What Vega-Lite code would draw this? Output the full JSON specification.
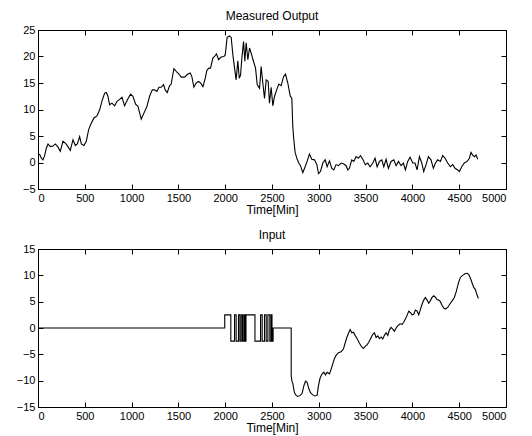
{
"$schema": "https://vega.github.io/schema/vega-lite/v6.json",
"padding": {"left": 15, "top": 9, "right": 5, "bottom": 2},
"background": "white",
"spacing": 12,
"config": {
  "view": {"stroke": "black", "strokeWidth": 1},
  "axis": {"domainColor": "black", "tickColor": "black", "labelColor": "black", "titleColor": "black", "labelFont": "Liberation Sans", "titleFont": "Liberation Sans", "labelFontSize": 11, "titleFontSize": 12, "titleFontWeight": "normal", "grid": false, "tickSize": -5, "labelPadding": 8, "titlePadding": 1, "format": "d"},
  "title": {"font": "Liberation Sans", "fontSize": 12, "fontWeight": "normal", "color": "black", "offset": 1}
},
"datasets": {
"out": [
{"t":0,"v":1.6},{"t":18,"v":1.5},{"t":36,"v":0.8},{"t":53,"v":0.5},{"t":71,"v":1.3},{"t":89,"v":2.7},{"t":107,"v":3.5},{"t":132,"v":3.0},{"t":160,"v":3.1},{"t":185,"v":3.5},{"t":214,"v":2.9},{"t":238,"v":2.1},{"t":267,"v":4.0},{"t":295,"v":3.6},{"t":320,"v":3.0},{"t":345,"v":2.3},{"t":374,"v":4.3},{"t":399,"v":3.2},{"t":420,"v":3.5},{"t":445,"v":4.9},{"t":463,"v":3.5},{"t":491,"v":3.2},{"t":516,"v":4.0},{"t":541,"v":6.2},{"t":569,"v":7.4},{"t":598,"v":8.4},{"t":630,"v":8.8},{"t":658,"v":9.9},{"t":687,"v":11.8},{"t":712,"v":13.1},{"t":730,"v":13.2},{"t":747,"v":12.5},{"t":765,"v":10.9},{"t":790,"v":11.2},{"t":819,"v":10.7},{"t":843,"v":11.5},{"t":872,"v":11.9},{"t":897,"v":12.3},{"t":925,"v":10.7},{"t":954,"v":11.8},{"t":989,"v":12.9},{"t":1014,"v":12.5},{"t":1043,"v":11.0},{"t":1068,"v":10.6},{"t":1103,"v":8.2},{"t":1139,"v":9.6},{"t":1164,"v":10.6},{"t":1192,"v":12.5},{"t":1221,"v":13.7},{"t":1246,"v":13.7},{"t":1270,"v":13.4},{"t":1292,"v":14.2},{"t":1317,"v":14.2},{"t":1342,"v":14.7},{"t":1359,"v":13.7},{"t":1381,"v":13.2},{"t":1406,"v":14.5},{"t":1423,"v":14.8},{"t":1452,"v":17.7},{"t":1477,"v":17.2},{"t":1505,"v":16.7},{"t":1530,"v":16.1},{"t":1566,"v":16.1},{"t":1601,"v":16.7},{"t":1626,"v":16.9},{"t":1644,"v":16.2},{"t":1665,"v":14.2},{"t":1690,"v":15.0},{"t":1715,"v":15.3},{"t":1737,"v":15.0},{"t":1762,"v":14.3},{"t":1787,"v":15.9},{"t":1804,"v":17.4},{"t":1826,"v":17.8},{"t":1843,"v":17.8},{"t":1868,"v":19.7},{"t":1886,"v":20.0},{"t":1907,"v":20.5},{"t":1929,"v":19.4},{"t":1957,"v":19.9},{"t":1986,"v":20.0},{"t":2000,"v":20.3},{"t":2021,"v":23.6},{"t":2046,"v":23.9},{"t":2064,"v":23.6},{"t":2082,"v":20.3},{"t":2100,"v":17.8},{"t":2117,"v":15.6},{"t":2135,"v":19.2},{"t":2150,"v":15.9},{"t":2164,"v":16.5},{"t":2178,"v":19.7},{"t":2196,"v":22.8},{"t":2210,"v":19.1},{"t":2224,"v":22.6},{"t":2242,"v":19.4},{"t":2260,"v":21.6},{"t":2278,"v":20.6},{"t":2302,"v":19.1},{"t":2324,"v":17.8},{"t":2342,"v":14.7},{"t":2367,"v":14.0},{"t":2384,"v":18.1},{"t":2402,"v":15.0},{"t":2420,"v":12.1},{"t":2438,"v":15.6},{"t":2459,"v":15.3},{"t":2473,"v":11.2},{"t":2491,"v":14.2},{"t":2509,"v":10.7},{"t":2527,"v":12.5},{"t":2552,"v":13.8},{"t":2573,"v":14.8},{"t":2598,"v":14.5},{"t":2623,"v":16.2},{"t":2644,"v":16.7},{"t":2669,"v":15.0},{"t":2694,"v":12.6},{"t":2712,"v":12.1},{"t":2722,"v":6.8},{"t":2733,"v":4.3},{"t":2747,"v":1.9},{"t":2769,"v":0.6},{"t":2786,"v":-0.1},{"t":2804,"v":-0.6},{"t":2829,"v":-1.9},{"t":2854,"v":-0.8},{"t":2875,"v":0.2},{"t":2900,"v":1.6},{"t":2925,"v":0.6},{"t":2954,"v":0.5},{"t":2979,"v":-0.4},{"t":2997,"v":-2.1},{"t":3018,"v":-1.7},{"t":3043,"v":-0.1},{"t":3068,"v":0.5},{"t":3089,"v":-0.8},{"t":3114,"v":0.3},{"t":3139,"v":-1.1},{"t":3160,"v":-1.4},{"t":3185,"v":-0.4},{"t":3210,"v":-0.6},{"t":3238,"v":-0.1},{"t":3267,"v":-0.3},{"t":3292,"v":-0.6},{"t":3310,"v":-1.4},{"t":3327,"v":-1.1},{"t":3352,"v":0.5},{"t":3374,"v":0.2},{"t":3399,"v":1.1},{"t":3423,"v":0.8},{"t":3445,"v":1.3},{"t":3470,"v":0.6},{"t":3498,"v":-0.4},{"t":3523,"v":-0.1},{"t":3548,"v":-0.8},{"t":3577,"v":-0.1},{"t":3601,"v":0.8},{"t":3623,"v":-0.8},{"t":3648,"v":0.2},{"t":3673,"v":0.5},{"t":3694,"v":-0.8},{"t":3719,"v":0.6},{"t":3744,"v":-1.1},{"t":3772,"v":0.2},{"t":3801,"v":0.5},{"t":3826,"v":-0.6},{"t":3851,"v":0.2},{"t":3879,"v":-0.6},{"t":3904,"v":-0.1},{"t":3925,"v":-1.4},{"t":3950,"v":0.2},{"t":3975,"v":1.0},{"t":4004,"v":-0.1},{"t":4028,"v":-0.1},{"t":4050,"v":-1.4},{"t":4075,"v":1.1},{"t":4100,"v":-0.1},{"t":4121,"v":-1.7},{"t":4146,"v":-0.4},{"t":4171,"v":1.1},{"t":4199,"v":0.5},{"t":4224,"v":-1.1},{"t":4246,"v":-0.1},{"t":4270,"v":0.5},{"t":4299,"v":0.2},{"t":4324,"v":1.3},{"t":4349,"v":0.8},{"t":4377,"v":-0.1},{"t":4406,"v":-0.8},{"t":4431,"v":-0.4},{"t":4456,"v":-1.1},{"t":4484,"v":-1.4},{"t":4502,"v":-1.7},{"t":4527,"v":-0.8},{"t":4555,"v":-0.1},{"t":4584,"v":0.2},{"t":4609,"v":0.8},{"t":4626,"v":1.9},{"t":4644,"v":1.4},{"t":4662,"v":1.1},{"t":4680,"v":1.4},{"t":4698,"v":0.6}
],
"inp": [
{"t":0,"v":0},{"t":1995,"v":0},{"t":1995,"v":2.5},{"t":2060,"v":2.5},{"t":2060,"v":-2.5},{"t":2100,"v":-2.5},{"t":2100,"v":2.5},{"t":2117,"v":2.5},{"t":2117,"v":-2.5},{"t":2142,"v":-2.5},{"t":2142,"v":2.5},{"t":2157,"v":2.5},{"t":2157,"v":-2.5},{"t":2171,"v":-2.5},{"t":2171,"v":2.5},{"t":2185,"v":2.5},{"t":2185,"v":-2.5},{"t":2199,"v":-2.5},{"t":2199,"v":2.5},{"t":2210,"v":2.5},{"t":2210,"v":-2.5},{"t":2222,"v":-2.5},{"t":2222,"v":2.5},{"t":2318,"v":2.5},{"t":2318,"v":-2.5},{"t":2378,"v":-2.5},{"t":2378,"v":2.5},{"t":2395,"v":2.5},{"t":2395,"v":-2.5},{"t":2420,"v":-2.5},{"t":2420,"v":2.5},{"t":2438,"v":2.5},{"t":2438,"v":-2.5},{"t":2456,"v":-2.5},{"t":2456,"v":2.5},{"t":2477,"v":2.5},{"t":2477,"v":-2.5},{"t":2491,"v":-2.5},{"t":2491,"v":2.5},{"t":2500,"v":2.5},{"t":2500,"v":-2.5},{"t":2512,"v":-2.5},{"t":2512,"v":0},{"t":2705,"v":0},{"t":2705,"v":-9.0},
{"t":2712,"v":-10.0},{"t":2722,"v":-10.5},{"t":2740,"v":-12.3},{"t":2758,"v":-12.8},{"t":2776,"v":-13.0},{"t":2801,"v":-12.8},{"t":2822,"v":-12.4},{"t":2840,"v":-11.0},{"t":2858,"v":-10.1},{"t":2875,"v":-10.3},{"t":2893,"v":-11.5},{"t":2911,"v":-12.3},{"t":2936,"v":-12.7},{"t":2961,"v":-12.9},{"t":2982,"v":-12.8},{"t":2996,"v":-11.0},{"t":3014,"v":-9.5},{"t":3032,"v":-8.8},{"t":3053,"v":-8.4},{"t":3071,"v":-8.9},{"t":3089,"v":-8.4},{"t":3114,"v":-8.7},{"t":3132,"v":-7.8},{"t":3149,"v":-6.8},{"t":3167,"v":-5.8},{"t":3185,"v":-5.2},{"t":3210,"v":-4.7},{"t":3238,"v":-4.5},{"t":3263,"v":-4.0},{"t":3281,"v":-2.9},{"t":3299,"v":-1.8},{"t":3317,"v":-1.0},{"t":3335,"v":-0.3},{"t":3352,"v":-0.9},{"t":3370,"v":-0.8},{"t":3388,"v":-1.4},{"t":3409,"v":-2.0},{"t":3434,"v":-2.9},{"t":3459,"v":-3.6},{"t":3477,"v":-3.9},{"t":3495,"v":-3.5},{"t":3516,"v":-3.2},{"t":3534,"v":-2.7},{"t":3559,"v":-1.8},{"t":3577,"v":-1.2},{"t":3594,"v":-0.9},{"t":3612,"v":-1.8},{"t":3630,"v":-1.5},{"t":3648,"v":-2.0},{"t":3665,"v":-1.7},{"t":3683,"v":-2.1},{"t":3701,"v":-1.4},{"t":3719,"v":-0.9},{"t":3737,"v":-1.4},{"t":3754,"v":-0.4},{"t":3772,"v":0.1},{"t":3790,"v":-0.2},{"t":3808,"v":-0.6},{"t":3826,"v":0.0},{"t":3843,"v":0.4},{"t":3868,"v":0.8},{"t":3890,"v":0.7},{"t":3907,"v":1.1},{"t":3925,"v":1.7},{"t":3943,"v":2.4},{"t":3961,"v":3.2},{"t":3979,"v":2.9},{"t":3996,"v":2.5},{"t":4014,"v":2.6},{"t":4032,"v":3.4},{"t":4050,"v":3.2},{"t":4068,"v":2.5},{"t":4085,"v":3.5},{"t":4103,"v":4.5},{"t":4121,"v":5.3},{"t":4139,"v":5.8},{"t":4157,"v":5.3},{"t":4174,"v":4.7},{"t":4192,"v":5.2},{"t":4210,"v":5.8},{"t":4228,"v":6.1},{"t":4246,"v":5.8},{"t":4263,"v":5.4},{"t":4281,"v":5.3},{"t":4299,"v":5.0},{"t":4317,"v":4.3},{"t":4335,"v":3.8},{"t":4352,"v":3.6},{"t":4377,"v":3.9},{"t":4402,"v":4.6},{"t":4423,"v":5.1},{"t":4448,"v":5.8},{"t":4470,"v":7.0},{"t":4491,"v":8.5},{"t":4512,"v":9.6},{"t":4537,"v":10.0},{"t":4562,"v":10.3},{"t":4584,"v":10.4},{"t":4601,"v":10.2},{"t":4619,"v":9.5},{"t":4637,"v":8.6},{"t":4655,"v":7.7},{"t":4673,"v":7.3},{"t":4690,"v":6.3},{"t":4705,"v":5.6}
]
},
"vconcat": [
{
  "title": {"text": "Measured Output"},
  "width": 468, "height": 159,
  "data": {"name": "out"},
  "layer": [
    {"mark": {"type": "line", "color": "black", "strokeWidth": 1.1},
     "encoding": {
       "x": {"field": "t", "type": "quantitative", "scale": {"domain": [0, 5000], "nice": false}, "axis": {"values": [0,500,1000,1500,2000,2500,3000,3500,4000,4500,5000], "title": "Time[Min]"}},
       "y": {"field": "v", "type": "quantitative", "scale": {"domain": [-5, 25], "nice": false, "zero": false}, "axis": {"values": [-5,0,5,10,15,20,25], "title": null}},
       "order": {"value": null}}},
    {"mark": {"type": "line", "opacity": 0},
     "encoding": {
       "x": {"field": "t", "type": "quantitative", "axis": {"orient": "top", "labels": false, "title": null, "values": [0,500,1000,1500,2000,2500,3000,3500,4000,4500,5000]}},
       "y": {"field": "v", "type": "quantitative", "axis": {"orient": "right", "labels": false, "title": null, "values": [-5,0,5,10,15,20,25]}}}}
  ],
  "resolve": {"axis": {"x": "independent", "y": "independent"}}
},
{
  "title": {"text": "Input"},
  "width": 468, "height": 158,
  "data": {"name": "inp"},
  "layer": [
    {"mark": {"type": "line", "color": "black", "strokeWidth": 1.1},
     "encoding": {
       "x": {"field": "t", "type": "quantitative", "scale": {"domain": [0, 5000], "nice": false}, "axis": {"values": [0,500,1000,1500,2000,2500,3000,3500,4000,4500,5000], "title": "Time[Min]"}},
       "y": {"field": "v", "type": "quantitative", "scale": {"domain": [-15, 15], "nice": false, "zero": false}, "axis": {"values": [-15,-10,-5,0,5,10,15], "title": null}},
       "order": {"value": null}}},
    {"mark": {"type": "line", "opacity": 0},
     "encoding": {
       "x": {"field": "t", "type": "quantitative", "axis": {"orient": "top", "labels": false, "title": null, "values": [0,500,1000,1500,2000,2500,3000,3500,4000,4500,5000]}},
       "y": {"field": "v", "type": "quantitative", "axis": {"orient": "right", "labels": false, "title": null, "values": [-15,-10,-5,0,5,10,15]}}}}
  ],
  "resolve": {"axis": {"x": "independent", "y": "independent"}}
}
]
}
